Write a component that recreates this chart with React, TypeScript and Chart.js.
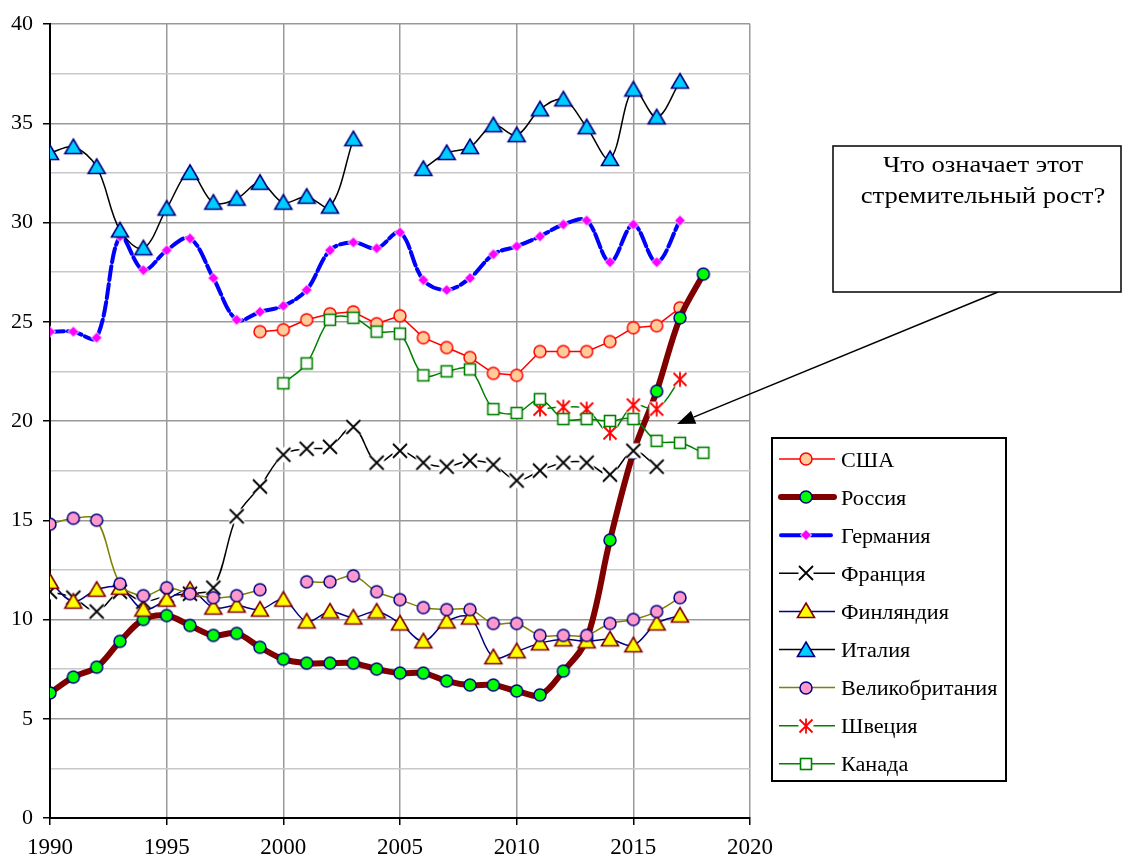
import React, { useEffect, useRef } from "react";
import { Chart, registerables } from "chart.js";

Chart.register(...registerables);

const years = [1990, 1991, 1992, 1993, 1994, 1995, 1996, 1997, 1998, 1999, 2000, 2001, 2002, 2003, 2004, 2005, 2006, 2007, 2008, 2009, 2010, 2011, 2012, 2013, 2014, 2015, 2016, 2017, 2018];

const usa = [null, null, null, null, null, null, null, null, null, 24.5, 24.6, 25.1, 25.4, 25.5, 24.9, 25.3, 24.2, 23.7, 23.2, 22.4, 22.3, 23.5, 23.5, 23.5, 24.0, 24.7, 24.8, 25.7, null];
const russia = [6.3, 7.1, 7.6, 8.9, 10.0, 10.2, 9.7, 9.2, 9.3, 8.6, 8.0, 7.8, 7.8, 7.8, 7.5, 7.3, 7.3, 6.9, 6.7, 6.7, 6.4, 6.2, 7.4, 9.0, 14.0, 18.4, 21.5, 25.2, 27.4];
const germany = [24.5, 24.5, 24.2, 29.3, 27.6, 28.6, 29.2, 27.2, 25.1, 25.5, 25.8, 26.6, 28.6, 29.0, 28.7, 29.5, 27.1, 26.6, 27.2, 28.4, 28.8, 29.3, 29.9, 30.1, 28.0, 29.9, 28.0, 30.1, null];
const france = [11.4, 11.1, 10.4, 11.4, 10.9, 11.2, 11.3, 11.6, 15.2, 16.7, 18.3, 18.6, 18.7, 19.7, 17.9, 18.5, 17.9, 17.7, 18.0, 17.8, 17.0, 17.5, 17.9, 17.9, 17.3, 18.5, 17.7, null, null];
const finland = [11.9, 10.9, 11.5, 11.6, 10.5, 11.0, 11.5, 10.6, 10.7, 10.5, 11.0, 9.9, 10.4, 10.1, 10.4, 9.8, 8.9, 9.9, 10.1, 8.1, 8.4, 8.8, 9.0, 8.9, 9.0, 8.7, 9.8, 10.2, null];
const italy = [33.5, 33.8, 32.8, 29.6, 28.7, 30.7, 32.5, 31.0, 31.2, 32.0, 31.0, 31.3, 30.8, 34.2, null, null, 32.7, 33.5, 33.8, 34.9, 34.4, 35.7, 36.2, 34.8, 33.2, 36.7, 35.3, 37.1, null];
const uk = [14.8, 15.1, 15.0, 11.8, 11.2, 11.6, 11.3, 11.1, 11.2, 11.5, null, 11.9, 11.9, 12.2, 11.4, 11.0, 10.6, 10.5, 10.5, 9.8, 9.8, 9.2, 9.2, 9.2, 9.8, 10.0, 10.4, 11.1, null];
const sweden = [null, null, null, null, null, null, null, null, null, null, null, null, null, null, null, null, null, null, null, null, null, 20.6, 20.7, 20.6, 19.4, 20.8, 20.6, 22.1, null];
const canada = [null, null, null, null, null, null, null, null, null, null, 21.9, 22.9, 25.1, 25.2, 24.5, 24.4, 22.3, 22.5, 22.6, 20.6, 20.4, 21.1, 20.1, 20.1, 20.0, 20.1, 19.0, 18.9, 18.4];

const seriesNames = ["США", "Россия", "Германия", "Франция", "Финляндия", "Италия", "Великобритания", "Швеция", "Канада"];
const yTickLabels = ["0", "5", "10", "15", "20", "25", "30", "35", "40"];
const xTickLabels = ["1990", "1995", "2000", "2005", "2010", "2015", "2020"];
const noteLines = ["Что означает этот", "стремительный рост?"];

const FONT = "'Liberation Serif', 'Times New Roman', serif";
const STRETCH = 1.11;

function mk(size: number, draw: (g: CanvasRenderingContext2D) => void) {
  const c = document.createElement("canvas");
  c.width = size;
  c.height = size;
  const g = c.getContext("2d")!;
  g.translate(size / 2, size / 2);
  draw(g);
  return c;
}

function circle(fill: string, stroke: string) {
  return mk(16, (g) => {
    g.beginPath();
    g.arc(0, 0, 6, 0, Math.PI * 2);
    g.fillStyle = fill;
    g.fill();
    g.lineWidth = 1.5;
    g.strokeStyle = stroke;
    g.stroke();
  });
}
function triangle(fill: string, stroke: string) {
  return mk(22, (g) => {
    g.beginPath();
    g.moveTo(0, -8);
    g.lineTo(8.5, 6.5);
    g.lineTo(-8.5, 6.5);
    g.closePath();
    g.fillStyle = fill;
    g.fill();
    g.lineWidth = 1.6;
    g.lineJoin = "miter";
    g.strokeStyle = stroke;
    g.stroke();
  });
}
function diamond() {
  return mk(14, (g) => {
    g.beginPath();
    g.moveTo(0, -5.5);
    g.lineTo(5.5, 0);
    g.lineTo(0, 5.5);
    g.lineTo(-5.5, 0);
    g.closePath();
    g.fillStyle = "#FF00FF";
    g.fill();
    g.lineWidth = 1;
    g.strokeStyle = "#FFFFFF";
    g.stroke();
  });
}
function xMark() {
  return mk(18, (g) => {
    g.fillStyle = "#FFFFFF";
    g.fillRect(-7.5, -7.5, 15, 15);
    g.beginPath();
    g.moveTo(-7, -7);
    g.lineTo(7, 7);
    g.moveTo(7, -7);
    g.lineTo(-7, 7);
    g.lineWidth = 1.8;
    g.strokeStyle = "#000000";
    g.stroke();
  });
}
function star() {
  return mk(18, (g) => {
    g.fillStyle = "#FFFFFF";
    g.fillRect(-7.5, -7.5, 15, 15);
    g.beginPath();
    g.moveTo(-6.5, -6.5);
    g.lineTo(6.5, 6.5);
    g.moveTo(6.5, -6.5);
    g.lineTo(-6.5, 6.5);
    g.moveTo(0, -7.5);
    g.lineTo(0, 7.5);
    g.lineWidth = 1.8;
    g.strokeStyle = "#FF0000";
    g.stroke();
  });
}
function square() {
  return mk(16, (g) => {
    g.fillStyle = "#FFFFFF";
    g.fillRect(-5.5, -5.5, 11, 11);
    g.lineWidth = 1.6;
    g.strokeStyle = "#008000";
    g.strokeRect(-5.5, -5.5, 11, 11);
  });
}

function pts(vals: (number | null)[]) {
  return years.map((y, i) => ({ x: y, y: vals[i] }));
}

function stretchedText(ctx: CanvasRenderingContext2D, text: string, x: number, y: number) {
  ctx.save();
  ctx.translate(x, y);
  ctx.scale(STRETCH, 1);
  ctx.fillText(text, 0, 0);
  ctx.restore();
}

export default function App() {
  const ref = useRef<HTMLCanvasElement>(null);

  useEffect(() => {
    const markers = [
      circle("#FFCC99", "#FF0000"),
      circle("#00FF00", "#000080"),
      diamond(),
      xMark(),
      triangle("#FFFF00", "#800000"),
      triangle("#00CCFF", "#000080"),
      circle("#FF99CC", "#000080"),
      star(),
      square(),
    ];
    const values = [usa, russia, germany, france, finland, italy, uk, sweden, canada];
    const colors = ["#FF0000", "#800000", "#0000FF", "#000000", "#000080", "#000000", "#808000", "#008000", "#008000"];
    const widths = [1.5, 6, 4, 1.5, 1.5, 1.5, 1.5, 1.5, 1.5];
    const dashes: number[][] = [[], [], [14, 4], [], [], [], [], [], []];
    const tensions = [0, 0.35, 0.35, 0.35, 0.35, 0.35, 0.35, 0.35, 0.35];

    const datasets = seriesNames.map((name, i) => ({
      label: name,
      data: pts(values[i]),
      borderColor: colors[i],
      backgroundColor: colors[i],
      borderWidth: widths[i],
      borderDash: dashes[i],
      borderCapStyle: "round" as const,
      borderJoinStyle: "round" as const,
      tension: tensions[i],
      pointStyle: markers[i],
      pointRadius: 5,
      spanGaps: false,
      order: 20 - i,
    }));

    const overlay = {
      id: "overlay",
      afterDraw(chart: any) {
        const ctx: CanvasRenderingContext2D = chart.ctx;
        ctx.save();
        // annotation arrow
        ctx.strokeStyle = "#000";
        ctx.lineWidth = 1.5;
        const x0 = 998, y0 = 292, x1 = 677, y1 = 424;
        const ang = Math.atan2(y1 - y0, x1 - x0);
        const L = 18, W = 7;
        const bx = x1 - L * Math.cos(ang), by = y1 - L * Math.sin(ang);
        ctx.beginPath();
        ctx.moveTo(x0, y0);
        ctx.lineTo(bx, by);
        ctx.stroke();
        ctx.beginPath();
        ctx.moveTo(x1, y1);
        ctx.lineTo(bx + W * Math.sin(ang), by - W * Math.cos(ang));
        ctx.lineTo(bx - W * Math.sin(ang), by + W * Math.cos(ang));
        ctx.closePath();
        ctx.fillStyle = "#000";
        ctx.fill();
        // annotation box
        ctx.fillStyle = "#FFF";
        ctx.fillRect(833, 146, 288, 146);
        ctx.lineWidth = 1.5;
        ctx.strokeRect(833, 146, 288, 146);
        ctx.fillStyle = "#000";
        ctx.font = "24px " + FONT;
        ctx.textAlign = "center";
        ctx.textBaseline = "alphabetic";
        stretchedText(ctx, noteLines[0], 983, 172);
        stretchedText(ctx, noteLines[1], 983, 203);
        // legend
        ctx.fillStyle = "#FFF";
        ctx.fillRect(772, 438, 234, 343);
        ctx.lineWidth = 2;
        ctx.strokeStyle = "#000";
        ctx.strokeRect(772, 438, 234, 343);
        ctx.font = "20px " + FONT;
        ctx.textAlign = "left";
        ctx.textBaseline = "alphabetic";
        seriesNames.forEach((name, i) => {
          const y = 459 + i * 38.1;
          ctx.save();
          ctx.beginPath();
          ctx.strokeStyle = colors[i];
          ctx.lineWidth = widths[i];
          ctx.lineCap = widths[i] > 3 ? "round" : "butt";
          ctx.setLineDash(dashes[i].length ? [22, 6] : []);
          ctx.moveTo(widths[i] > 3 ? 781 : 779, y);
          ctx.lineTo(widths[i] > 3 ? 834 : 835, y);
          ctx.stroke();
          ctx.restore();
          const m = markers[i];
          ctx.drawImage(m, Math.round(806 - m.width / 2), Math.round(y - m.height / 2));
          ctx.fillStyle = "#000";
          stretchedText(ctx, name, 841, y + 7.5);
        });
        ctx.restore();
      },
    };

    const chart = new Chart(ref.current!, {
      type: "line",
      data: { datasets: datasets as any },
      options: {
        responsive: false,
        animation: false,
        events: [],
        layout: { padding: { top: 24, right: 372, left: 0, bottom: 0 } },
        plugins: { legend: { display: false }, tooltip: { enabled: false } },
        scales: {
          x: {
            type: "linear",
            min: 1990,
            max: 2020,
            afterFit: (s: any) => {
              s.height = 42;
            },
            ticks: {
              stepSize: 5,
              autoSkip: false,
              maxRotation: 0,
              color: "#000",
              padding: 9,
              font: { family: FONT, size: 23 },
              callback: (v: any) => {
                const s = String(v);
                return xTickLabels.includes(s) ? s : "";
              },
            },
            grid: {
              color: "#999999",
              lineWidth: 1.5,
              tickColor: "#000",
              tickLength: 7,
              tickWidth: 1.5,
            },
            border: { color: "#000", width: 2 },
          },
          y: {
            type: "linear",
            min: 0,
            max: 40,
            afterFit: (s: any) => {
              s.width = 50;
            },
            ticks: {
              stepSize: 2.5,
              autoSkip: false,
              color: "#000",
              padding: 10,
              font: { family: FONT, size: 22 },
              callback: (v: any) => {
                const s = String(v);
                return yTickLabels.includes(s) ? s : "";
              },
            },
            grid: {
              color: (c: any) => (c.tick && c.tick.value % 5 === 0 ? "#999999" : "#C8C8C8"),
              lineWidth: 1.5,
              tickColor: (c: any) => (c.tick && c.tick.value % 5 === 0 ? "#000" : "rgba(0,0,0,0)"),
              tickLength: 7,
              tickWidth: 1.5,
            },
            border: { color: "#000", width: 2 },
          },
        },
      },
      plugins: [overlay],
    });
    return () => chart.destroy();
  }, []);

  return (
    <div style={{ position: "absolute", left: 0, top: 0, width: 1122, height: 860, background: "#fff" }}>
      <canvas ref={ref} width={1122} height={860} style={{ display: "block" }} />
    </div>
  );
}
